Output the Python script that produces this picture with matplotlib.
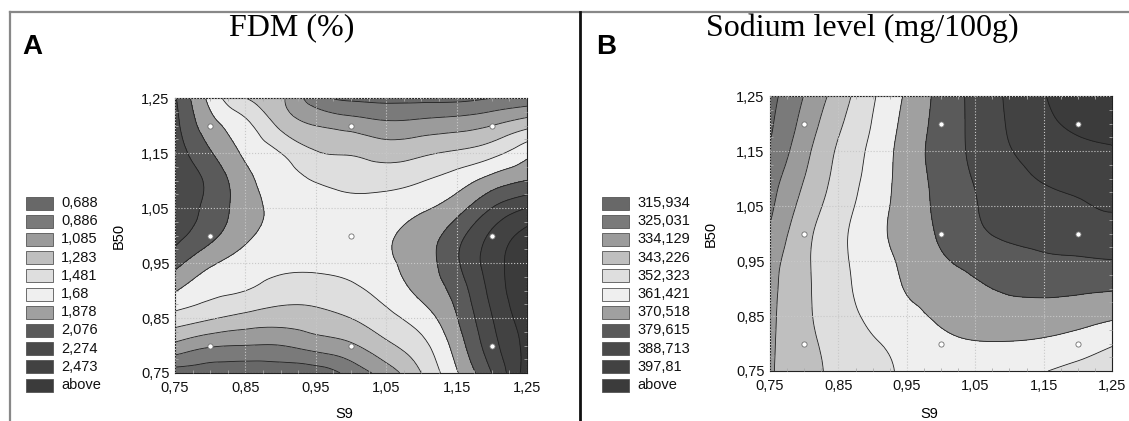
import numpy as np
import matplotlib.pyplot as plt
import matplotlib.tri as mtri
from matplotlib.patches import Rectangle

# grid of the response surfaces
s9 = [0.75, 0.80, 0.85, 0.90, 0.95, 1.00, 1.05, 1.10, 1.15, 1.20, 1.25]
b50 = [0.75, 0.80, 0.85, 0.90, 0.95, 1.00, 1.05, 1.10, 1.15, 1.20, 1.25]

# rows: B50 from 0.75 to 1.25, columns: S9 from 0.75 to 1.25
fdm = [
    [0.589, 0.569, 0.529, 0.569, 0.569, 0.761, 0.979, 1.285, 1.660, 2.078, 2.572],
    [1.035, 0.911, 0.884, 0.884, 0.966, 1.055, 1.237, 1.422, 1.767, 2.195, 2.532],
    [1.400, 1.305, 1.221, 1.180, 1.215, 1.285, 1.420, 1.580, 1.868, 2.265, 2.592],
    [1.693, 1.541, 1.483, 1.388, 1.378, 1.436, 1.561, 1.729, 1.957, 2.334, 2.631],
    [1.943, 1.713, 1.600, 1.541, 1.531, 1.561, 1.650, 1.779, 2.046, 2.374, 2.611],
    [2.136, 1.937, 1.719, 1.620, 1.600, 1.620, 1.660, 1.769, 1.997, 2.314, 2.532],
    [2.175, 2.017, 1.769, 1.630, 1.580, 1.561, 1.580, 1.650, 1.798, 2.078, 2.276],
    [2.195, 2.027, 1.739, 1.580, 1.471, 1.418, 1.410, 1.471, 1.580, 1.759, 1.880],
    [2.175, 1.898, 1.650, 1.483, 1.299, 1.267, 1.204, 1.249, 1.313, 1.416, 1.620],
    [2.136, 1.759, 1.536, 1.243, 1.083, 1.013, 0.942, 0.966, 1.005, 1.083, 1.223],
    [2.096, 1.620, 1.285, 1.124, 0.767, 0.648, 0.628, 0.628, 0.628, 0.686, 0.738],
]

sodium = [
    [333.22, 339.95, 345.50, 349.59, 353.69, 355.96, 356.87, 355.96, 352.78, 349.59, 346.87],
    [332.76, 340.68, 346.50, 351.41, 355.05, 359.15, 360.97, 360.97, 360.06, 357.33, 353.23],
    [332.31, 341.31, 348.41, 354.32, 358.96, 362.78, 365.33, 366.70, 366.33, 365.33, 363.06],
    [331.85, 341.31, 349.59, 356.14, 361.88, 365.06, 369.15, 371.43, 372.34, 371.88, 371.24],
    [330.49, 341.41, 350.05, 357.14, 363.51, 369.15, 373.25, 375.52, 377.34, 378.25, 379.16],
    [326.40, 340.31, 349.96, 358.15, 365.33, 371.70, 377.70, 381.43, 383.71, 385.07, 386.44],
    [323.21, 337.31, 347.96, 357.05, 365.42, 372.70, 379.16, 383.25, 385.53, 387.80, 389.17],
    [320.94, 334.13, 346.05, 355.60, 365.51, 373.34, 380.25, 385.07, 389.62, 391.44, 392.35],
    [316.84, 331.22, 344.50, 354.51, 365.61, 374.07, 381.71, 388.17, 392.81, 395.08, 396.45],
    [314.57, 328.12, 341.59, 352.78, 364.33, 373.70, 382.07, 389.53, 395.45, 400.08, 403.27],
    [313.02, 325.30, 338.40, 351.14, 362.78, 373.34, 382.25, 390.17, 397.26, 403.27, 406.91],
]

fdm_levels = [0.688, 0.886, 1.085, 1.283, 1.481, 1.68, 1.878, 2.076, 2.274, 2.473]
fdm_labels = ['0,688', '0,886', '1,085', '1,283', '1,481', '1,68', '1,878',
              '2,076', '2,274', '2,473', 'above']
sodium_levels = [315.934, 325.031, 334.129, 343.226, 352.323, 361.421, 370.518,
                 379.615, 388.713, 397.81]
sodium_labels = ['315,934', '325,031', '334,129', '343,226', '352,323', '361,421',
                 '370,518', '379,615', '388,713', '397,81', 'above']

# design points
pts_s9 = [0.8, 0.8, 0.8, 1.0, 1.0, 1.0, 1.2, 1.2, 1.2]
pts_b50 = [0.8, 1.0, 1.2, 0.8, 1.0, 1.2, 0.8, 1.0, 1.2]

tick_vals = [0.75, 0.85, 0.95, 1.05, 1.15, 1.25]
tick_labels = ['0,75', '0,85', '0,95', '1,05', '1,15', '1,25']

band_colors = ['#686868', '#7a7a7a', '#9b9b9b', '#bfbfbf', '#dedede', '#efefef',
               '#a0a0a0', '#5a5a5a', '#4a4a4a', '#424242', '#3b3b3b']

plt.rcParams['font.family'] = ['Liberation Sans', 'DejaVu Sans']

W, H = 1129, 421
fig = plt.figure(figsize=(W / 100, H / 100), dpi=100)

# overlay in pixel coordinates for frame, titles and legends
ov = fig.add_axes([0, 0, 1, 1])
ov.set_xlim(0, W)
ov.set_ylim(H, 0)
ov.axis('off')


def panel(rect, z, levels):
    ax = fig.add_axes([rect[0] / W, 1 - rect[3] / H, (rect[2] - rect[0]) / W,
                       (rect[3] - rect[1]) / H])
    X, Y = np.meshgrid(s9, b50)
    z = np.array(z)
    tri = mtri.Triangulation(X.ravel(), Y.ravel())
    refiner = mtri.UniformTriRefiner(tri)
    tri_f, z_f = refiner.refine_field(z.ravel(), subdiv=3)
    lv = [z_f.min() - 1] + levels + [z_f.max() + 1]
    ax.tricontourf(tri_f, z_f, levels=lv, colors=band_colors, zorder=1)
    ax.tricontour(tri_f, z_f, levels=levels, colors='#1e1e1e', linewidths=0.6, zorder=2)
    ax.scatter(pts_s9, pts_b50, s=14, facecolor='white', edgecolor='#707070',
               linewidth=0.6, zorder=4)
    ax.set_xlim(0.75, 1.25)
    ax.set_ylim(0.75, 1.25)
    ax.set_xticks(tick_vals)
    ax.set_xticklabels(tick_labels)
    ax.set_yticks(tick_vals)
    ax.set_yticklabels(tick_labels)
    ax.set_xticks(np.arange(0.75, 1.2501, 0.025), minor=True)
    ax.set_yticks(np.arange(0.75, 1.2501, 0.025), minor=True)
    ax.tick_params(which='major', direction='in', length=0, labelsize=10.5,
                   colors='#111111')
    ax.tick_params(axis='x', which='major', pad=6)
    ax.tick_params(axis='y', which='major', pad=4)
    ax.tick_params(which='minor', direction='in', length=2.5, width=0.6,
                   color='#aaaaaa', top=True, right=True)
    ax.set_axisbelow(False)
    ax.grid(True, which='major', linestyle=':', color='#c8c8c8', linewidth=0.8, zorder=3)
    for sp in ax.spines.values():
        sp.set_linewidth(0.8)
        sp.set_color('#222222')
    return ax


def legend(x0, labels):
    y = 203
    for i, lab in enumerate(labels):
        ov.add_patch(Rectangle((x0, y + 18.2 * i - 6.5), 27, 13, facecolor=band_colors[i],
                               edgecolor='#555555', linewidth=0.6))
        ov.text(x0 + 35, y + 18.2 * i, lab, fontsize=10.5, va='center', ha='left',
                color='#111111')


ax_a = panel((175, 98, 527, 373), fdm, fdm_levels)
ax_b = panel((770, 96, 1112, 371), sodium, sodium_levels)

legend(26, fdm_labels)
legend(602, sodium_labels)

# axis titles
ov.text(344, 414, 'S9', fontsize=10.5, ha='center', va='center')
ov.text(929, 414, 'S9', fontsize=10.5, ha='center', va='center')
ov.text(119, 236, 'B50', fontsize=10.5, ha='center', va='center', rotation=90)
ov.text(711, 234, 'B50', fontsize=10.5, ha='center', va='center', rotation=90)

# panel titles and letters
ov.text(292, 28, 'FDM (%)', fontsize=23, ha='center', va='center',
        family=['Liberation Serif', 'DejaVu Serif'])
ov.text(862, 28, 'Sodium level (mg/100g)', fontsize=23, ha='center', va='center',
        family=['Liberation Serif', 'DejaVu Serif'])
ov.text(22, 47, 'A', fontsize=20, weight='bold', ha='left', va='center')
ov.text(596, 47, 'B', fontsize=20, weight='bold', ha='left', va='center')

# frame lines
ov.plot([10, W], [12, 12], color='#888888', linewidth=1.6)
ov.plot([10, 10], [12, H], color='#888888', linewidth=1.6)
ov.plot([580, 580], [12, H], color='#111111', linewidth=2.0)

fig.savefig('out.png', dpi=100)
